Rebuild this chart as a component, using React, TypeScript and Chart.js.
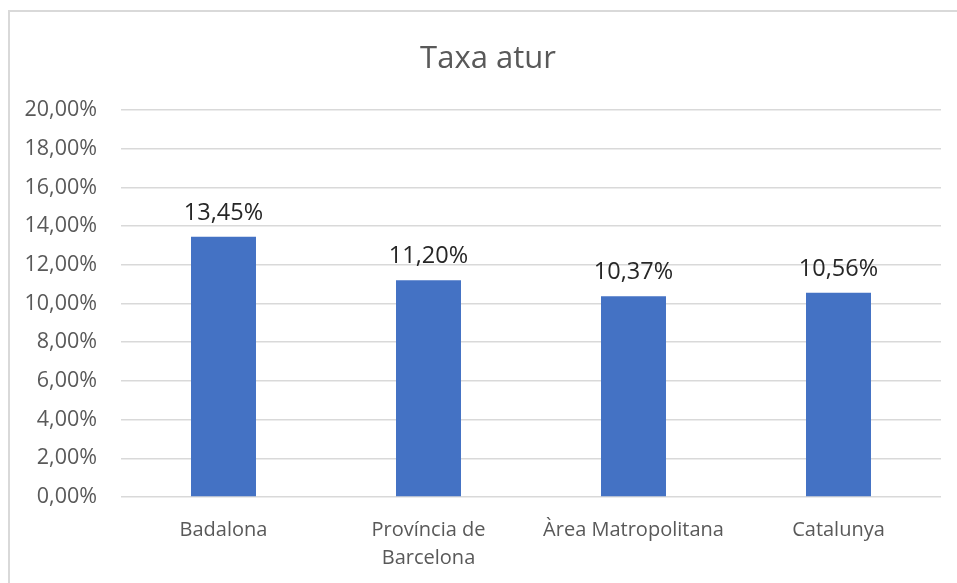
import React, { useEffect, useRef } from "react";
import { Chart, registerables } from "chart.js";

Chart.register(...registerables);

const categories: (string | string[])[] = [
  "Badalona",
  ["Província de", "Barcelona"],
  "Àrea Matropolitana",
  "Catalunya",
];
const values: number[] = [13.45, 11.2, 10.37, 10.56];
const yTicks: number[] = [0, 2, 4, 6, 8, 10, 12, 14, 16, 18, 20];
const titleText = "Taxa atur";

const FONT = "'Open Sans', 'DejaVu Sans', sans-serif";
const fmt = (v: number) => v.toFixed(2).replace(".", ",") + "%";

export default function App() {
  const ref = useRef<HTMLCanvasElement | null>(null);

  useEffect(() => {
    if (!ref.current) return;
    const labelPlugin = {
      id: "dataLabels",
      afterDatasetsDraw(chart: any) {
        const ctx = chart.ctx;
        const meta = chart.getDatasetMeta(0);
        ctx.save();
        ctx.font = `23.5px ${FONT}`;
        ctx.fillStyle = "#262626";
        ctx.textAlign = "center";
        ctx.textBaseline = "alphabetic";
        meta.data.forEach((bar: any, i: number) => {
          ctx.fillText(fmt(values[i]), bar.x, bar.y - 17);
        });
        ctx.restore();
      },
    };
    const titlePlugin = {
      id: "customTitle",
      afterDraw(chart: any) {
        const ctx = chart.ctx;
        ctx.save();
        ctx.font = `31px ${FONT}`;
        ctx.fillStyle = "#595959";
        ctx.textAlign = "center";
        ctx.textBaseline = "alphabetic";
        ctx.fillText(titleText, 488, 68);
        ctx.restore();
      },
    };
    const chart = new Chart(ref.current, {
      type: "bar",
      data: {
        labels: categories,
        datasets: [
          {
            data: values,
            backgroundColor: "#4472C4",
            barPercentage: 0.317,
            categoryPercentage: 1,
          },
        ],
      },
      options: {
        animation: false,
        responsive: false,
        maintainAspectRatio: false,
        layout: { padding: { left: 0, right: 16, top: 110, bottom: 0 } },
        plugins: {
          legend: { display: false },
          title: { display: false },
          tooltip: { enabled: false },
        },
        scales: {
          x: {
            grid: { display: false, drawTicks: false },
            border: { display: false },
            ticks: {
              color: "#595959",
              font: { family: FONT, size: 20, lineHeight: 1.4 },
              padding: 19,
              maxRotation: 0,
              autoSkip: false,
            },
            afterFit: (s: any) => {
              s.height = 86;
            },
          },
          y: {
            min: 0,
            max: 20,
            afterBuildTicks: (s: any) => {
              s.ticks = yTicks.map((v) => ({ value: v }));
            },
            grid: { color: "#d9d9d9", lineWidth: 1.5, drawTicks: false },
            border: { display: false },
            ticks: {
              color: "#595959",
              font: { family: FONT, size: 21.5 },
              padding: 24,
              callback: (v: any) => fmt(Number(v)),
            },
            afterFit: (s: any) => {
              s.width = 121;
            },
          },
        },
      },
      plugins: [labelPlugin, titlePlugin],
    });
    return () => chart.destroy();
  }, []);

  return (
    <div
      style={{
        position: "fixed",
        left: 0,
        top: 0,
        width: 957,
        height: 583,
        overflow: "hidden",
        background: "#ffffff",
      }}
    >
      <div
        style={{
          position: "absolute",
          left: 8,
          top: 10,
          width: 1100,
          height: 1000,
          border: "2px solid #d9d9d9",
          boxSizing: "border-box",
        }}
      />
      <canvas
        ref={ref}
        width={957}
        height={583}
        style={{ position: "absolute", left: 0, top: 0, width: 957, height: 583 }}
      />
    </div>
  );
}
